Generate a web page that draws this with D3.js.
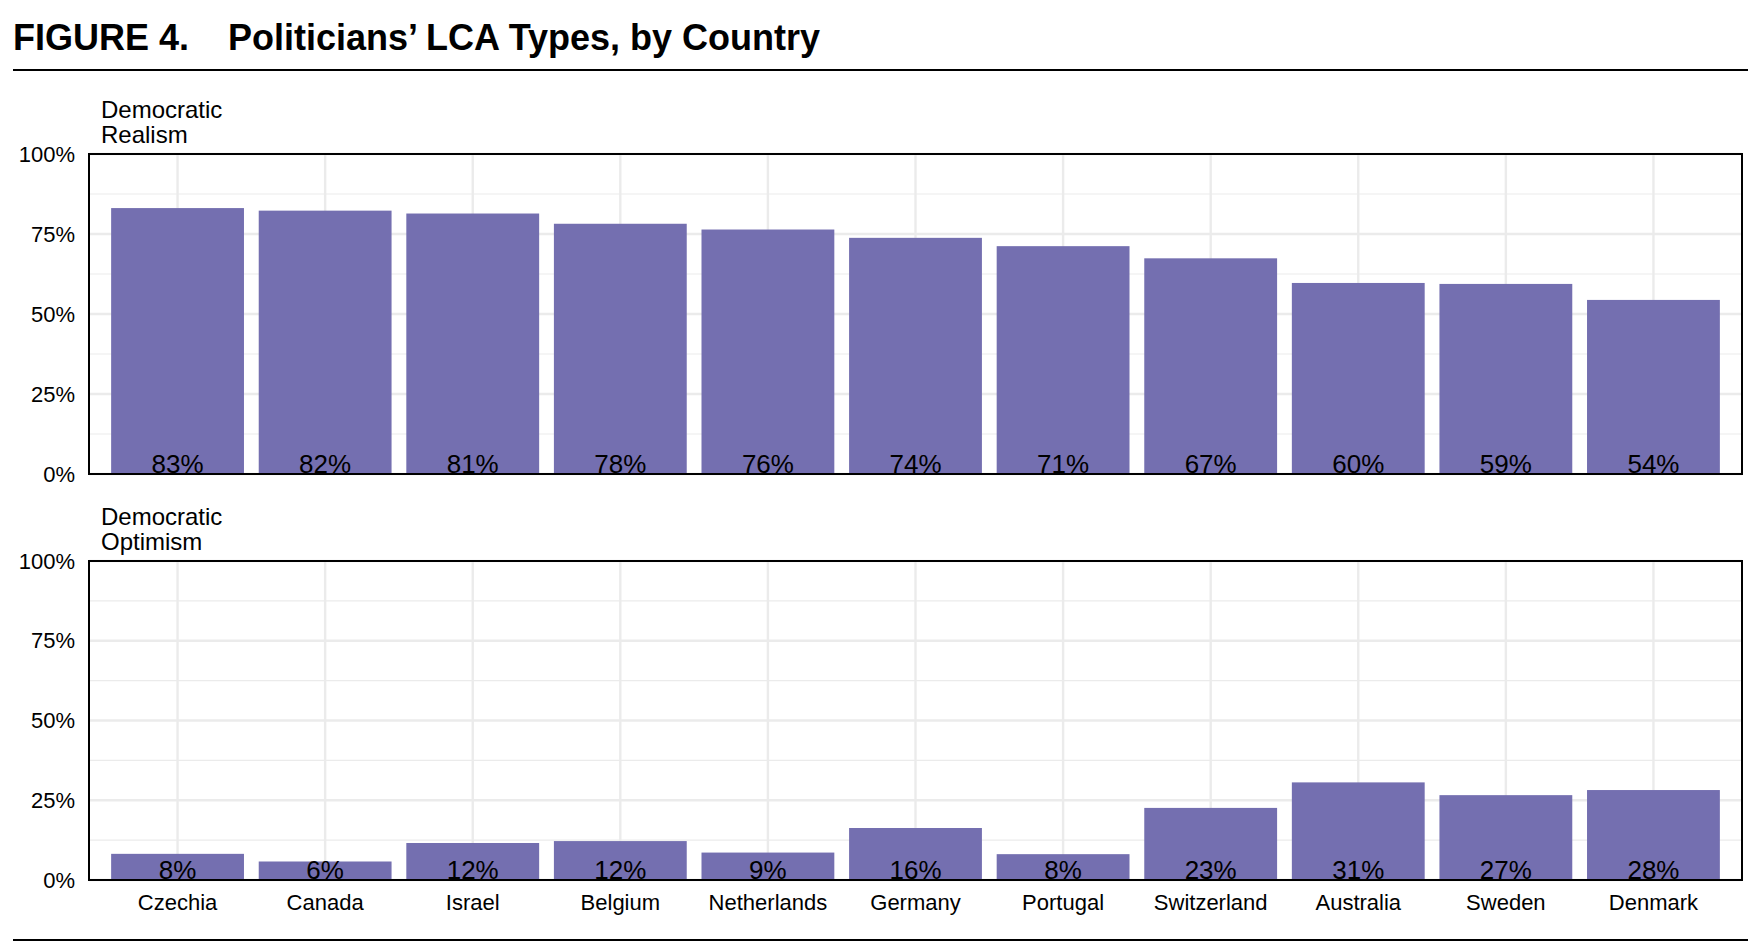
<!DOCTYPE html>
<html>
<head>
<meta charset="utf-8">
<script src="https://cdn.jsdelivr.net/npm/d3@7"></script>
<style>
  body { margin: 0; background: #fff; }
  svg { font-family: "Liberation Sans", Arial, Helvetica, sans-serif; }
</style>
</head>
<body>
<svg id="chart" width="1762" height="952"></svg>
<script>
// data
const countries = ['Czechia', 'Canada', 'Israel', 'Belgium', 'Netherlands', 'Germany',
  'Portugal', 'Switzerland', 'Australia', 'Sweden', 'Denmark'];
const realism = [83.1, 82.3, 81.4, 78.2, 76.4, 73.8, 71.2, 67.4, 59.7, 59.4, 54.4];
const optimism = [8.2, 5.8, 11.6, 12.2, 8.6, 16.3, 8.1, 22.6, 30.6, 26.6, 28.2];
const facetLabels = [['Democratic', 'Realism'], ['Democratic', 'Optimism']];
const yTicks = [0, 25, 50, 75, 100];
const yMinor = [12.5, 37.5, 62.5, 87.5];

const svg = d3.select('#chart');
const barColor = '#746fb0';
const fontStack = '"Liberation Sans", Arial, Helvetica, sans-serif';

const left = 89, right = 1742;
const panels = [
  { top: 154, bottom: 474, values: realism, label: facetLabels[0] },
  { top: 561, bottom: 880, values: optimism, label: facetLabels[1] }
];

// title + rules
svg.append('text')
  .attr('x', 13).attr('y', 50)
  .attr('font-size', 36).attr('font-weight', 'bold')
  .text('FIGURE 4.');
svg.append('text')
  .attr('x', 228).attr('y', 50)
  .attr('font-size', 36).attr('font-weight', 'bold')
  .text('Politicians\u2019 LCA Types, by Country');

svg.append('line').attr('x1', 13).attr('x2', 1748).attr('y1', 70).attr('y2', 70)
  .attr('stroke', '#000').attr('stroke-width', 2);
svg.append('line').attr('x1', 13).attr('x2', 1748).attr('y1', 940).attr('y2', 940)
  .attr('stroke', '#000').attr('stroke-width', 2);

const x = d3.scaleBand()
  .domain(countries)
  .range([left, right])
  .paddingInner(0.1)
  .paddingOuter(0.15);

panels.forEach((p, i) => {
  const y = d3.scaleLinear().domain([0, 100]).range([p.bottom, p.top]);
  const g = svg.append('g');

  // facet label
  g.append('text')
    .attr('x', left + 12).attr('y', p.top - 36)
    .attr('font-size', 24)
    .selectAll('tspan')
    .data(p.label)
    .join('tspan')
    .attr('x', left + 12)
    .attr('dy', (d, j) => j === 0 ? 0 : 25)
    .text(d => d);

  // grid
  g.selectAll('.minor').data(yMinor).join('line')
    .attr('x1', left).attr('x2', right)
    .attr('y1', d => y(d)).attr('y2', d => y(d))
    .attr('stroke', '#ebebeb').attr('stroke-width', 1.2);
  g.selectAll('.major').data(yTicks).join('line')
    .attr('x1', left).attr('x2', right)
    .attr('y1', d => y(d)).attr('y2', d => y(d))
    .attr('stroke', '#ebebeb').attr('stroke-width', 2.4);
  g.selectAll('.vgrid').data(countries).join('line')
    .attr('x1', d => x(d) + x.bandwidth() / 2).attr('x2', d => x(d) + x.bandwidth() / 2)
    .attr('y1', p.top).attr('y2', p.bottom)
    .attr('stroke', '#ebebeb').attr('stroke-width', 2.4);

  // bars
  g.selectAll('rect.bar').data(p.values).join('rect')
    .attr('class', 'bar')
    .attr('x', (d, j) => x(countries[j]))
    .attr('width', x.bandwidth())
    .attr('y', d => y(d))
    .attr('height', d => y(0) - y(d))
    .attr('fill', barColor);

  // value labels
  g.selectAll('text.val').data(p.values).join('text')
    .attr('class', 'val')
    .attr('x', (d, j) => x(countries[j]) + x.bandwidth() / 2)
    .attr('y', y(0) - 1)
    .attr('text-anchor', 'middle')
    .attr('font-size', 26)
    .attr('fill', '#000')
    .text(d => Math.round(d) + '%');

  // panel border
  g.append('rect')
    .attr('x', left).attr('y', p.top)
    .attr('width', right - left).attr('height', p.bottom - p.top)
    .attr('fill', 'none').attr('stroke', '#000').attr('stroke-width', 2);

  // y axis
  const yAxis = d3.axisLeft(y).tickValues(yTicks).tickSize(0).tickPadding(14)
    .tickFormat(d => d + '%');
  const ya = g.append('g').attr('transform', `translate(${left},0)`).call(yAxis);
  ya.select('.domain').remove();
  ya.selectAll('text').attr('font-size', 22).attr('fill', '#000')
    .attr('font-family', fontStack);

  // x axis on bottom panel only
  if (i === 1) {
    const xAxis = d3.axisBottom(x).tickSize(0).tickPadding(14);
    const xa = g.append('g').attr('transform', `translate(0,${p.bottom})`).call(xAxis);
    xa.select('.domain').remove();
    xa.selectAll('text').attr('font-size', 22).attr('fill', '#000')
      .attr('font-family', fontStack);
  }
});
</script>
</body>
</html>
